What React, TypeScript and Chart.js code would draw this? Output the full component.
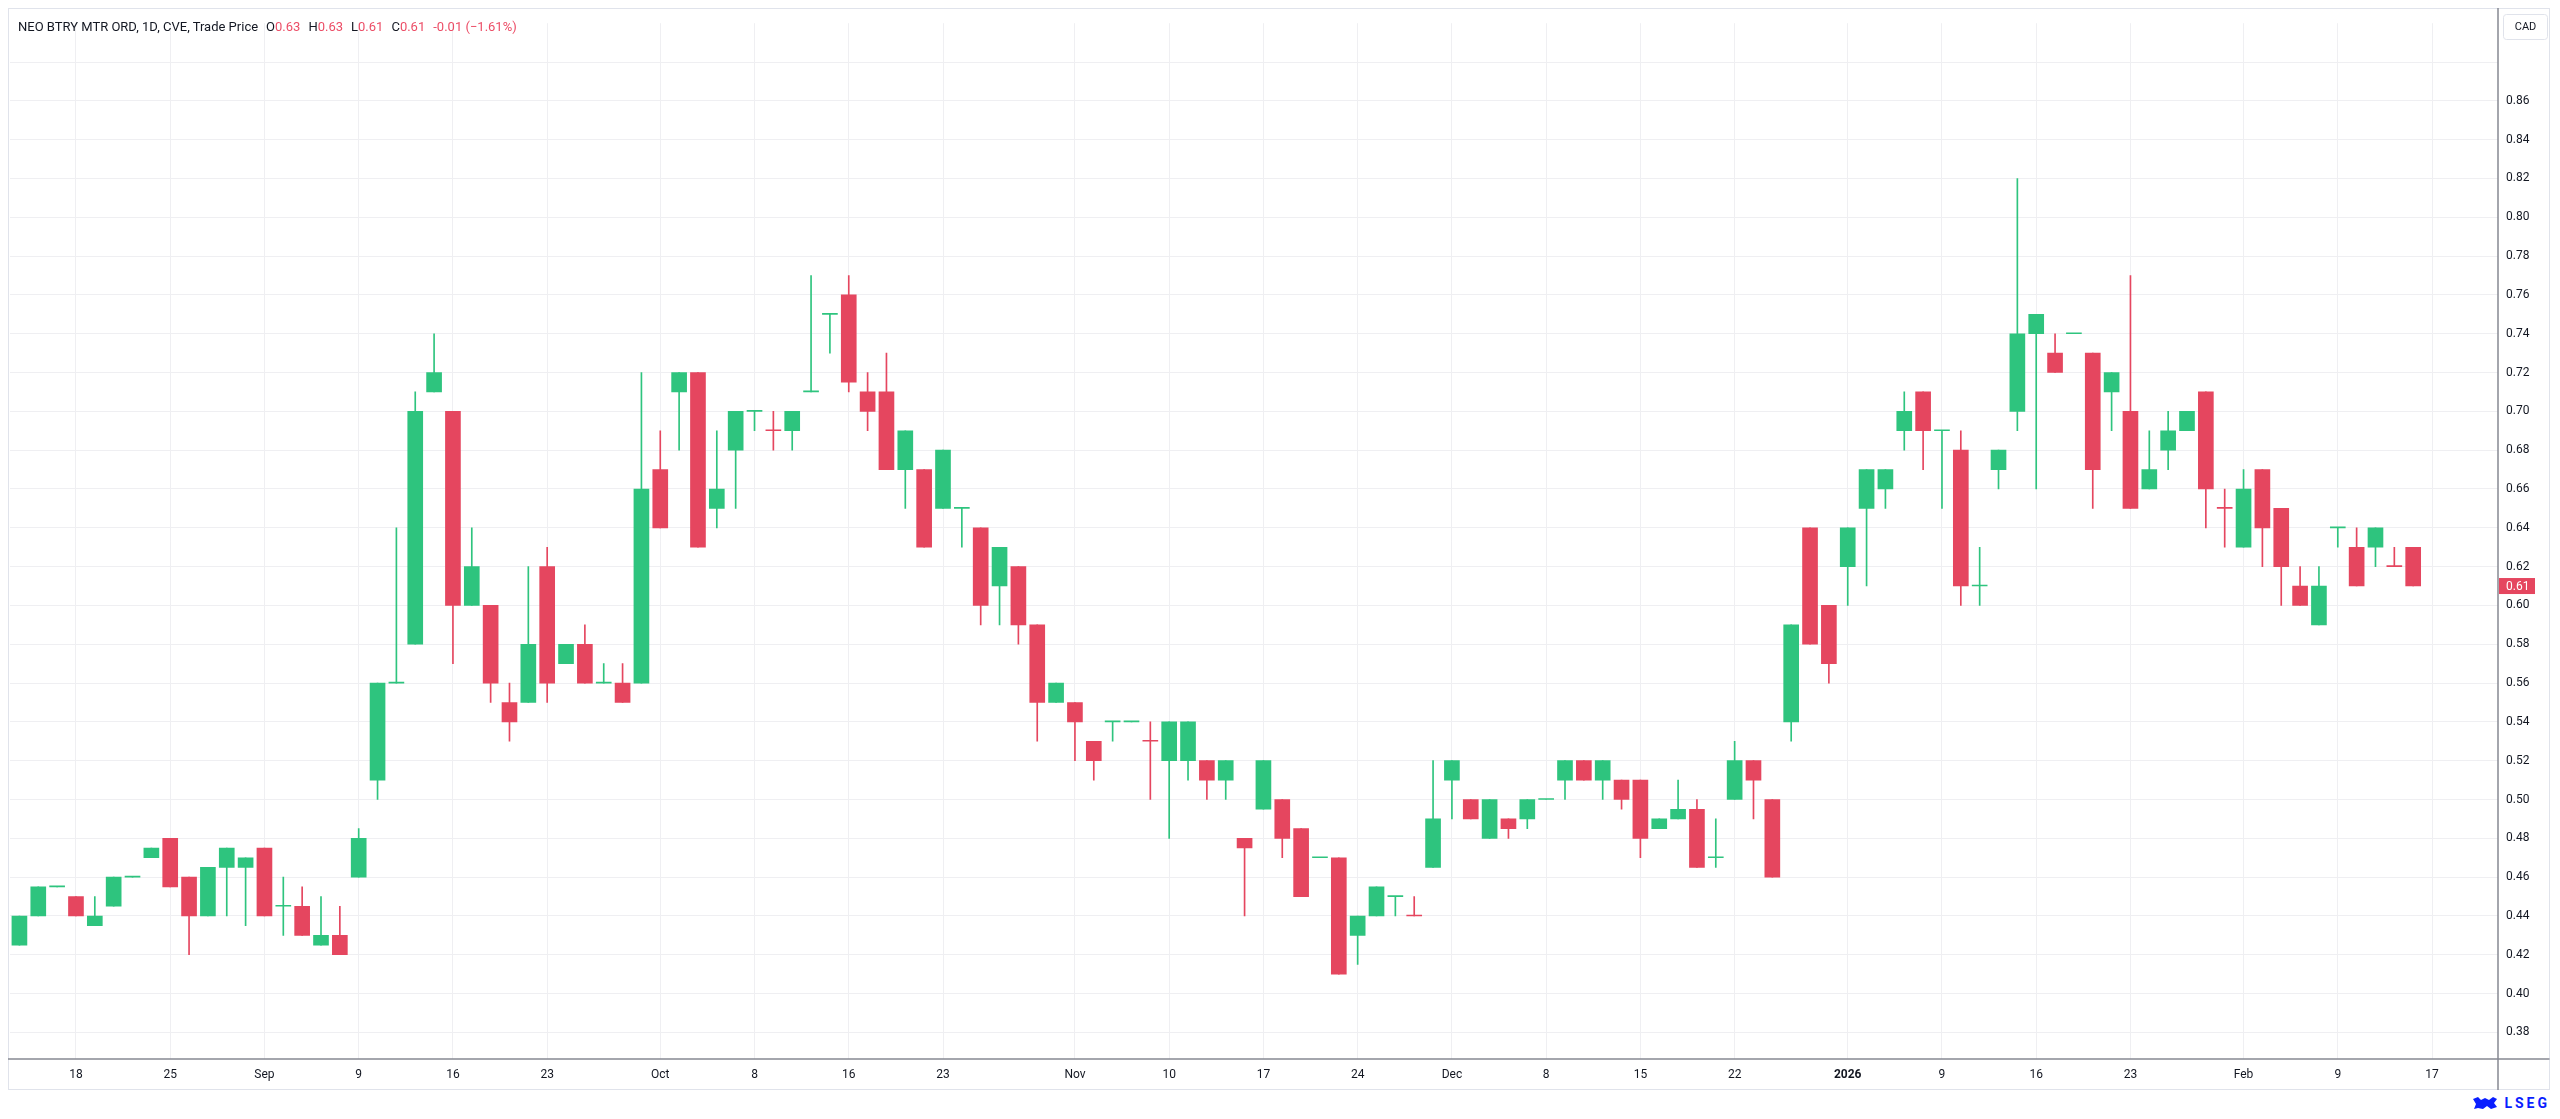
import { useEffect, useRef } from "react";
import { Chart, registerables } from "chart.js";

Chart.register(...registerables);

// trading days (CVE), Aug 13 2025 - Feb 13 2026
const dates = [
  "2025-08-13", "2025-08-14", "2025-08-15", "2025-08-18", "2025-08-19", "2025-08-20", "2025-08-21", "2025-08-22",
  "2025-08-25", "2025-08-26", "2025-08-27", "2025-08-28", "2025-08-29",
  "2025-09-02", "2025-09-03", "2025-09-04", "2025-09-05", "2025-09-08", "2025-09-09", "2025-09-10", "2025-09-11",
  "2025-09-12", "2025-09-15", "2025-09-16", "2025-09-17", "2025-09-18", "2025-09-19", "2025-09-22", "2025-09-23",
  "2025-09-24", "2025-09-25", "2025-09-26", "2025-09-29", "2025-09-30",
  "2025-10-01", "2025-10-02", "2025-10-03", "2025-10-06", "2025-10-07", "2025-10-08", "2025-10-09", "2025-10-10",
  "2025-10-14", "2025-10-15", "2025-10-16", "2025-10-17", "2025-10-20", "2025-10-21", "2025-10-22", "2025-10-23",
  "2025-10-24", "2025-10-27", "2025-10-28", "2025-10-29", "2025-10-30", "2025-10-31",
  "2025-11-03", "2025-11-04", "2025-11-05", "2025-11-06", "2025-11-07", "2025-11-10", "2025-11-11", "2025-11-12",
  "2025-11-13", "2025-11-14", "2025-11-17", "2025-11-18", "2025-11-19", "2025-11-20", "2025-11-21", "2025-11-24",
  "2025-11-25", "2025-11-26", "2025-11-27", "2025-11-28",
  "2025-12-01", "2025-12-02", "2025-12-03", "2025-12-04", "2025-12-05", "2025-12-08", "2025-12-09", "2025-12-10",
  "2025-12-11", "2025-12-12", "2025-12-15", "2025-12-16", "2025-12-17", "2025-12-18", "2025-12-19", "2025-12-22",
  "2025-12-23", "2025-12-24", "2025-12-29", "2025-12-30", "2025-12-31",
  "2026-01-02", "2026-01-05", "2026-01-06", "2026-01-07", "2026-01-08", "2026-01-09", "2026-01-12", "2026-01-13",
  "2026-01-14", "2026-01-15", "2026-01-16", "2026-01-19", "2026-01-20", "2026-01-21", "2026-01-22", "2026-01-23",
  "2026-01-26", "2026-01-27", "2026-01-28", "2026-01-29", "2026-01-30",
  "2026-02-02", "2026-02-03", "2026-02-04", "2026-02-05", "2026-02-06", "2026-02-09", "2026-02-10", "2026-02-11",
  "2026-02-12", "2026-02-13",
];

// empty slots to the right of the last bar
const futureDates = ["2026-02-17", "2026-02-18", "2026-02-19", "2026-02-20"];

const open = [
  0.425, 0.44, 0.455, 0.45, 0.435, 0.445, 0.46, 0.47, 0.48, 0.46, 0.44, 0.465, 0.465,
  0.475, 0.445, 0.445, 0.425, 0.43, 0.46, 0.51, 0.56, 0.58, 0.71, 0.70, 0.60, 0.60, 0.55, 0.55, 0.62,
  0.57, 0.58, 0.56, 0.56, 0.56,
  0.67, 0.71, 0.72, 0.65, 0.68, 0.70, 0.69, 0.69, 0.71, 0.75, 0.76, 0.71, 0.71, 0.67, 0.67, 0.65,
  0.65, 0.64, 0.61, 0.62, 0.59, 0.55,
  0.55, 0.53, 0.54, 0.54, 0.53, 0.52, 0.52, 0.52, 0.51, 0.48, 0.495, 0.50, 0.485, 0.47, 0.47, 0.43,
  0.44, 0.45, 0.44, 0.465,
  0.51, 0.50, 0.48, 0.49, 0.49, 0.50, 0.51, 0.52, 0.51, 0.51, 0.51, 0.485, 0.49, 0.495, 0.47, 0.50,
  0.52, 0.50, 0.54, 0.64, 0.60,
  0.62, 0.65, 0.66, 0.69, 0.71, 0.69, 0.68, 0.61, 0.67, 0.70, 0.74, 0.73, 0.74, 0.73, 0.71, 0.70,
  0.66, 0.68, 0.69, 0.71, 0.65,
  0.63, 0.67, 0.65, 0.61, 0.59, 0.64, 0.63, 0.63, 0.62, 0.63,
];

const high = [
  0.44, 0.455, 0.455, 0.45, 0.45, 0.46, 0.46, 0.475, 0.48, 0.46, 0.465, 0.475, 0.47,
  0.475, 0.46, 0.455, 0.45, 0.445, 0.485, 0.56, 0.64, 0.71, 0.74, 0.70, 0.64, 0.60, 0.56, 0.62, 0.63,
  0.58, 0.59, 0.57, 0.57, 0.72,
  0.69, 0.72, 0.72, 0.69, 0.70, 0.70, 0.70, 0.70, 0.77, 0.75, 0.77, 0.72, 0.73, 0.69, 0.67, 0.68,
  0.65, 0.64, 0.63, 0.62, 0.59, 0.56,
  0.55, 0.53, 0.54, 0.54, 0.54, 0.54, 0.54, 0.52, 0.52, 0.48, 0.52, 0.50, 0.485, 0.47, 0.47, 0.44,
  0.455, 0.45, 0.45, 0.52,
  0.52, 0.50, 0.50, 0.49, 0.50, 0.50, 0.52, 0.52, 0.52, 0.51, 0.51, 0.49, 0.51, 0.50, 0.49, 0.53,
  0.52, 0.50, 0.59, 0.64, 0.60,
  0.64, 0.67, 0.67, 0.71, 0.71, 0.69, 0.69, 0.63, 0.68, 0.82, 0.75, 0.74, 0.74, 0.73, 0.72, 0.77,
  0.69, 0.70, 0.70, 0.71, 0.66,
  0.67, 0.67, 0.65, 0.62, 0.62, 0.64, 0.64, 0.64, 0.63, 0.63,
];

const low = [
  0.425, 0.44, 0.455, 0.44, 0.435, 0.445, 0.46, 0.47, 0.455, 0.42, 0.44, 0.44, 0.435,
  0.44, 0.43, 0.43, 0.425, 0.42, 0.46, 0.50, 0.56, 0.58, 0.71, 0.57, 0.60, 0.55, 0.53, 0.55, 0.55,
  0.57, 0.56, 0.56, 0.55, 0.56,
  0.64, 0.68, 0.63, 0.64, 0.65, 0.69, 0.68, 0.68, 0.71, 0.73, 0.71, 0.69, 0.67, 0.65, 0.63, 0.65,
  0.63, 0.59, 0.59, 0.58, 0.53, 0.55,
  0.52, 0.51, 0.53, 0.54, 0.50, 0.48, 0.51, 0.50, 0.50, 0.44, 0.495, 0.47, 0.45, 0.47, 0.41, 0.415,
  0.44, 0.44, 0.44, 0.465,
  0.49, 0.49, 0.48, 0.48, 0.485, 0.50, 0.50, 0.51, 0.50, 0.495, 0.47, 0.485, 0.49, 0.465, 0.465, 0.50,
  0.49, 0.46, 0.53, 0.58, 0.56,
  0.60, 0.61, 0.65, 0.68, 0.67, 0.65, 0.60, 0.60, 0.66, 0.69, 0.66, 0.72, 0.74, 0.65, 0.69, 0.65,
  0.66, 0.67, 0.69, 0.64, 0.63,
  0.63, 0.62, 0.60, 0.60, 0.59, 0.63, 0.61, 0.62, 0.62, 0.61,
];

const close = [
  0.44, 0.455, 0.455, 0.44, 0.44, 0.46, 0.46, 0.475, 0.455, 0.44, 0.465, 0.475, 0.47,
  0.44, 0.445, 0.43, 0.43, 0.42, 0.48, 0.56, 0.56, 0.70, 0.72, 0.60, 0.62, 0.56, 0.54, 0.58, 0.56,
  0.58, 0.56, 0.56, 0.55, 0.66,
  0.64, 0.72, 0.63, 0.66, 0.70, 0.70, 0.69, 0.70, 0.71, 0.75, 0.715, 0.70, 0.67, 0.69, 0.63, 0.68,
  0.65, 0.60, 0.63, 0.59, 0.55, 0.56,
  0.54, 0.52, 0.54, 0.54, 0.53, 0.54, 0.54, 0.51, 0.52, 0.475, 0.52, 0.48, 0.45, 0.47, 0.41, 0.44,
  0.455, 0.45, 0.44, 0.49,
  0.52, 0.49, 0.50, 0.485, 0.50, 0.50, 0.52, 0.51, 0.52, 0.50, 0.48, 0.49, 0.495, 0.465, 0.47, 0.52,
  0.51, 0.46, 0.59, 0.58, 0.57,
  0.64, 0.67, 0.67, 0.70, 0.69, 0.69, 0.61, 0.61, 0.68, 0.74, 0.75, 0.72, 0.74, 0.67, 0.72, 0.65,
  0.67, 0.69, 0.70, 0.66, 0.65,
  0.66, 0.64, 0.62, 0.60, 0.61, 0.64, 0.61, 0.64, 0.62, 0.61,
];

// flat (open = close) sessions that the source draws in the down colour
const dojiDown = ["2025-10-09", "2025-11-07", "2025-11-27", "2026-01-30", "2026-02-12"];

const priceTicks = [0.38, 0.4, 0.42, 0.44, 0.46, 0.48, 0.5, 0.52, 0.54, 0.56, 0.58, 0.6, 0.62, 0.64, 0.66, 0.68, 0.7, 0.72, 0.74, 0.76, 0.78, 0.8, 0.82, 0.84, 0.86, 0.88];
const unlabeledPriceTicks = [0.88];

const timeTickDates = [
  "2025-08-18", "2025-08-25", "2025-09-02", "2025-09-09", "2025-09-16", "2025-09-23",
  "2025-10-01", "2025-10-08", "2025-10-16", "2025-10-23", "2025-11-03", "2025-11-10",
  "2025-11-17", "2025-11-24", "2025-12-01", "2025-12-08", "2025-12-15", "2025-12-22",
  "2026-01-02", "2026-01-09", "2026-01-16", "2026-01-23", "2026-02-02", "2026-02-09", "2026-02-17",
];
const timeTickLabels = [
  "18", "25", "Sep", "9", "16", "23", "Oct", "8", "16", "23", "Nov", "10",
  "17", "24", "Dec", "8", "15", "22", "2026", "9", "16", "23", "Feb", "9", "17",
];

const UP = "#2ec47e";
const DOWN = "#e5465f";
const GRID = "#efeff2";
const TEXT = "#131722";
const FONT = "Roboto, 'Noto Sans', sans-serif";

const labels = [...dates, ...futureDates];

function isUp(i: number) {
  if (close[i] !== open[i]) return close[i] > open[i];
  return !dojiDown.includes(dates[i]);
}

const framePlugin = {
  id: "frame",
  afterDraw(chart: any) {
    const { ctx, chartArea, width, height } = chart;
    const yScale = chart.scales.y;
    ctx.save();

    // outer border
    ctx.strokeStyle = "#e0e3eb";
    ctx.lineWidth = 1;
    ctx.strokeRect(0.5, 0.5, width - 3, height - 1);

    // axis lines
    ctx.strokeStyle = "#868993";
    ctx.lineWidth = 1.5;
    ctx.beginPath();
    ctx.moveTo(chartArea.right, 0);
    ctx.lineTo(chartArea.right, height);
    ctx.moveTo(0, chartArea.bottom);
    ctx.lineTo(width - 2.5, chartArea.bottom);
    ctx.stroke();

    // currency box
    ctx.strokeStyle = "#e0e3eb";
    ctx.lineWidth = 1;
    ctx.beginPath();
    ctx.roundRect(chartArea.right + 5.5, 6.5, 44, 25, 3);
    ctx.stroke();
    ctx.fillStyle = TEXT;
    ctx.font = `11px ${FONT}`;
    ctx.textAlign = "center";
    ctx.textBaseline = "middle";
    ctx.fillText("CAD", chartArea.right + 27.5, 19.5);

    // last price label
    const last = close.length - 1;
    const y = yScale.getPixelForValue(close[last]);
    ctx.fillStyle = close[last] < close[last - 1] ? DOWN : UP;
    ctx.fillRect(chartArea.right + 1, y - 8, 36, 16);
    ctx.fillStyle = "#ffffff";
    ctx.textAlign = "left";
    ctx.font = `12px ${FONT}`;
    ctx.fillText(close[last].toFixed(2), chartArea.right + 8, y + 0.5);

    ctx.restore();
  },
};

export default function App() {
  const canvasRef = useRef<HTMLCanvasElement>(null);
  const chartRef = useRef<Chart | null>(null);

  useEffect(() => {
    if (!canvasRef.current) return;

    const bodies = labels.map((_, i) => (i < close.length ? [open[i], close[i]] : null));
    const wicks = labels.map((_, i) => (i < close.length ? [low[i], high[i]] : null));
    const colorOf = (ctx: any) => (isUp(ctx.dataIndex) ? UP : DOWN);

    chartRef.current = new Chart(canvasRef.current, {
      type: "bar",
      data: {
        labels,
        datasets: [
          {
            label: "body",
            data: bodies as any,
            backgroundColor: colorOf,
            barThickness: 15,
            minBarLength: 1,
            grouped: false,
            borderWidth: 0,
            order: 0,
          },
          {
            label: "wick",
            data: wicks as any,
            backgroundColor: colorOf,
            barThickness: 1,
            grouped: false,
            borderWidth: 0,
            order: 1,
          },
        ],
      },
      options: {
        animation: false,
        responsive: true,
        maintainAspectRatio: false,
        events: [],
        layout: { padding: { top: 2, left: 2, right: 0, bottom: 0 } },
        plugins: {
          legend: { display: false },
          tooltip: { enabled: false },
        },
        scales: {
          x: {
            type: "category",
            offset: true,
            grid: { color: GRID, offset: false, drawTicks: false },
            border: { display: false },
            afterBuildTicks: (scale: any) => {
              scale.ticks = timeTickDates.map((d) => ({ value: labels.indexOf(d) }));
            },
            afterFit: (scale: any) => {
              scale.height = 31;
            },
            ticks: {
              autoSkip: false,
              maxRotation: 0,
              padding: 9,
              color: TEXT,
              font: (ctx: any) => ({
                family: FONT,
                size: 12,
                weight: ctx.tick && ctx.tick.label === "2026" ? "bold" : "normal",
              }),
              callback: (value: any) => timeTickLabels[timeTickDates.indexOf(labels[value])],
            },
          },
          y: {
            position: "right",
            min: 0.3663,
            max: 0.9,
            grid: { color: GRID, drawTicks: false },
            border: { display: false },
            afterBuildTicks: (scale: any) => {
              scale.ticks = priceTicks.map((v) => ({ value: v }));
            },
            afterFit: (scale: any) => {
              scale.width = 54;
            },
            ticks: {
              padding: 8,
              color: TEXT,
              font: { family: FONT, size: 12 },
              callback: (value: any) =>
                unlabeledPriceTicks.includes(value) ? "" : Number(value).toFixed(2),
            },
          },
        },
      },
      plugins: [framePlugin],
    });

    return () => {
      if (chartRef.current) {
        chartRef.current.destroy();
        chartRef.current = null;
      }
    };
  }, []);

  const last = close.length - 1;
  const change = close[last] - close[last - 1];
  const pct = (change / close[last - 1]) * 100;
  const valColor = change < 0 ? "#ec4d66" : UP;
  const fmt = (v: number) => v.toFixed(2);

  return (
    <div style={{ height: "1103px", fontFamily: FONT }}>
      <div style={{ position: "relative", width: "100%", height: "1082px" }}>
        <canvas ref={canvasRef} />
        <div
          style={{
            position: "absolute",
            left: "10px",
            top: "11px",
            fontSize: "13px",
            lineHeight: "16px",
            color: TEXT,
            whiteSpace: "nowrap",
          }}
        >
          NEO BTRY MTR ORD, 1D, CVE, Trade Price
          <span style={{ marginLeft: "8px" }}>O<span style={{ color: valColor }}>{fmt(open[last])}</span></span>
          <span style={{ marginLeft: "8px" }}>H<span style={{ color: valColor }}>{fmt(high[last])}</span></span>
          <span style={{ marginLeft: "8px" }}>L<span style={{ color: valColor }}>{fmt(low[last])}</span></span>
          <span style={{ marginLeft: "8px" }}>C<span style={{ color: valColor }}>{fmt(close[last])}</span></span>
          <span style={{ marginLeft: "8px", color: valColor }}>
            {fmt(change)} ({pct < 0 ? "\u2212" : "+"}{Math.abs(pct).toFixed(2)}%)
          </span>
        </div>
      </div>
      <div
        style={{
          height: "21px",
          display: "flex",
          justifyContent: "flex-end",
          alignItems: "flex-end",
          gap: "6px",
          paddingRight: "2px",
          color: "#0a1eff",
        }}
      >
        <svg width="26" height="14" viewBox="0 0 26 14" style={{ marginBottom: "1px" }}>
          <path d="M1 3 L6 1 L9 4 L13 2 L17 4 L21 1 L25 3 L22 7 L25 11 L19 13 L15 10 L11 13 L6 12 L2 13 L4 8 Z" fill="#0a1eff" />
        </svg>
        <span style={{ fontWeight: "bold", fontSize: "14px", lineHeight: "16px", letterSpacing: "3px" }}>LSEG</span>
      </div>
    </div>
  );
}
